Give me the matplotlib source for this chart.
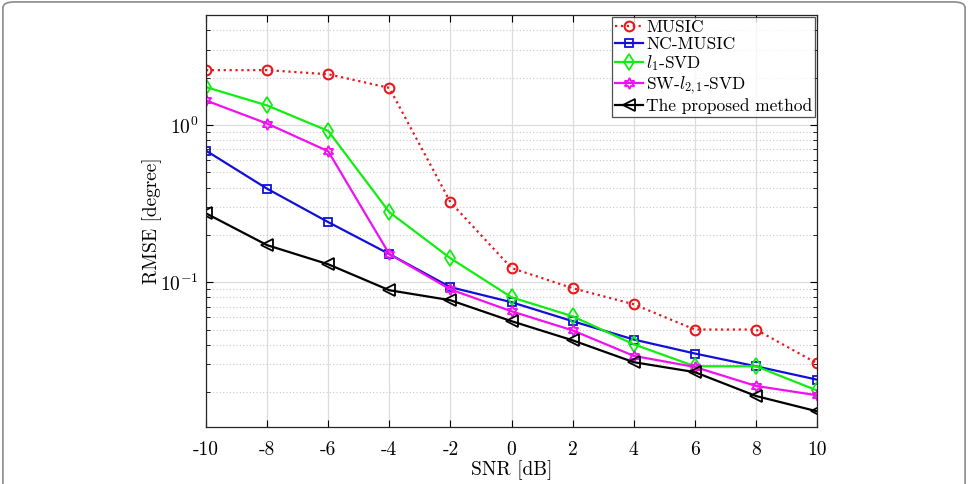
import matplotlib
matplotlib.use("Agg")
from matplotlib import pyplot as plt
from matplotlib.patches import FancyBboxPatch
from matplotlib.ticker import LogLocator, NullFormatter

plt.rcParams['font.family'] = ['cmr10', 'DejaVu Serif']
plt.rcParams['mathtext.fontset'] = 'cm'
plt.rcParams['axes.unicode_minus'] = False
plt.rcParams['axes.formatter.use_mathtext'] = True

snr = [-10, -8, -6, -4, -2, 0, 2, 4, 6, 8, 10]
music = [2.23, 2.23, 2.10, 1.72, 0.323, 0.123, 0.0916, 0.0724, 0.050, 0.050, 0.0305]
nc_music = [0.686, 0.393, 0.241, 0.151, 0.093, 0.0746, 0.0565, 0.0432, 0.0352, 0.0292, 0.024]
l1_svd = [1.74, 1.33, 0.916, 0.279, 0.142, 0.0802, 0.0607, 0.0403, 0.0292, 0.0292, 0.0205]
sw_l21_svd = [1.43, 1.02, 0.68, 0.151, 0.090, 0.0653, 0.0494, 0.034, 0.0289, 0.0219, 0.0191]
proposed = [0.274, 0.172, 0.130, 0.0889, 0.0768, 0.0565, 0.0427, 0.031, 0.0268, 0.0189, 0.0151]
xtick_labels = ['-10', '-8', '-6', '-4', '-2', '0', '2', '4', '6', '8', '10']

fig = plt.figure(figsize=(9.68, 4.84), dpi=100)
ax = fig.add_axes([206/968, 1-427/484, (817-206)/968, (427-15)/484])

# rounded frame around the figure, open at the bottom
frame = FancyBboxPatch((0.003, -0.05), 0.994, 1.046, boxstyle="round,pad=0,rounding_size=0.012",
                       transform=fig.transFigure, fill=False, edgecolor='#8a8a8a', lw=1.2)
fig.patches.append(frame)

ax.plot(snr, music, ':', color='#e8191c', marker='o', ms=7, mfc='none', mew=1.5, lw=1.6, label='MUSIC')
ax.plot(snr, nc_music, '-', color='#1010d8', marker='s', ms=6, mfc='none', mew=1.3, lw=1.6, label='NC-MUSIC')
ax.plot(snr, l1_svd, '-', color='#10ee10', marker='d', ms=8, mfc='none', mew=1.3, lw=1.6, label='$l_1$-SVD')
ax.plot(snr, sw_l21_svd, '-', color='#f010f0', marker=(6, 1, 0), ms=8, mfc='none', mew=1.3, lw=1.6,
        label='SW-$l_{2,1}$-SVD')
ax.plot(snr, proposed, '-', color='black', marker='<', ms=8, mfc='none', mew=1.3, lw=1.6,
        label='The proposed method')

ax.set_yscale('log')
ax.set_xlim(-10, 10)
ax.set_ylim(0.012, 5)
ax.set_xticks(snr)
ax.set_xticklabels(xtick_labels)
ax.yaxis.set_major_locator(LogLocator(base=10, numticks=10))
ax.yaxis.set_minor_locator(LogLocator(base=10, subs=range(2, 10), numticks=10))
ax.yaxis.set_minor_formatter(NullFormatter())

ax.grid(True, which='major', color='#dcdcdc', lw=0.9, ls='-')
ax.grid(True, which='minor', axis='y', color='#c8c8c8', lw=0.8, ls=(0, (1, 2)))
ax.set_axisbelow(True)
ax.tick_params(which='both', direction='in', top=True, right=True, labelsize=14)
ax.tick_params(axis='x', pad=10)
ax.tick_params(axis='y', pad=5)
ax.tick_params(which='major', length=5)
ax.tick_params(which='minor', length=3)
for s in ax.spines.values():
    s.set_color('#262626')
    s.set_linewidth(0.9)

ax.set_xlabel('SNR [dB]', fontsize=14, labelpad=1)
ax.set_ylabel('RMSE [degree]', fontsize=14, labelpad=-1)

leg = ax.legend(loc='upper right', fontsize=12.5, frameon=True, fancybox=False, edgecolor='#262626',
                borderpad=0.15, labelspacing=0.08, handlelength=1.6, handletextpad=0.2,
                borderaxespad=0.12)
leg.get_frame().set_linewidth(0.9)

fig.savefig('out.png', dpi=100)
